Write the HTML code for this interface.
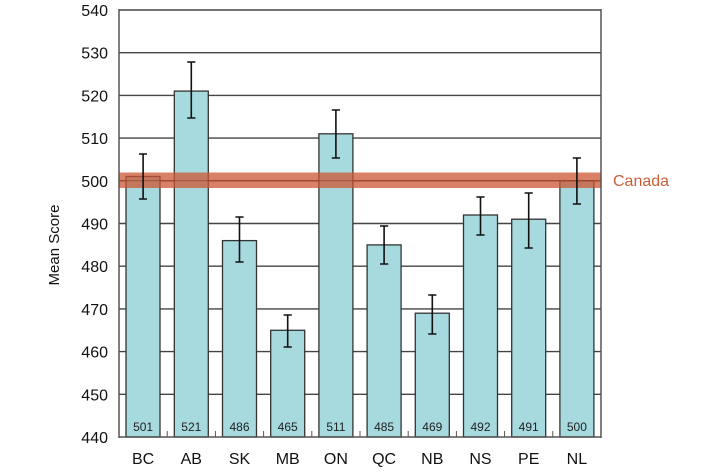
<!DOCTYPE html>
<html><head><meta charset="utf-8"><style>
body{margin:0;background:#fff;}
text{font-family:"Liberation Sans",sans-serif;}
</style></head><body>
<svg width="720" height="471" viewBox="0 0 720 471" xmlns="http://www.w3.org/2000/svg">
<g stroke="#444" stroke-width="1.4">
<line x1="119" y1="10" x2="601" y2="10"/>
<line x1="119" y1="52.7" x2="601" y2="52.7"/>
<line x1="119" y1="95.4" x2="601" y2="95.4"/>
<line x1="119" y1="138.1" x2="601" y2="138.1"/>
<line x1="119" y1="180.8" x2="601" y2="180.8"/>
<line x1="119" y1="223.5" x2="601" y2="223.5"/>
<line x1="119" y1="266.2" x2="601" y2="266.2"/>
<line x1="119" y1="308.9" x2="601" y2="308.9"/>
<line x1="119" y1="351.6" x2="601" y2="351.6"/>
<line x1="119" y1="394.3" x2="601" y2="394.3"/>
</g>
<g fill="#a6dadf" stroke="#333" stroke-width="1.3">
<rect x="126" y="176.5" width="34" height="260.5"/>
<rect x="174.3" y="91.1" width="34" height="345.9"/>
<rect x="222.5" y="240.6" width="34" height="196.4"/>
<rect x="270.7" y="330.3" width="34" height="106.7"/>
<rect x="318.9" y="133.8" width="34" height="303.2"/>
<rect x="367.1" y="244.9" width="34" height="192.1"/>
<rect x="415.3" y="313.2" width="34" height="123.8"/>
<rect x="463.5" y="215" width="34" height="222"/>
<rect x="511.7" y="219.2" width="34" height="217.8"/>
<rect x="559.9" y="180.8" width="34" height="256.2"/>
</g>
<rect x="119" y="172.5" width="482" height="15.5" fill="#cc5533" opacity="0.75"/>
<line x1="119" y1="180.8" x2="601" y2="180.8" stroke="#8a3a20" stroke-width="1" opacity="0.6"/>
<g stroke="#111" stroke-width="1.6">
<path d="M143.1 154V199M139 154H147M139 199H147"/>
<path d="M191.3 62V118M187.2 62H195.4M187.2 118H195.4"/>
<path d="M239.5 217V262M235.4 217H243.6M235.4 262H243.6"/>
<path d="M287.7 315V347M283.6 315H291.8M283.6 347H291.8"/>
<path d="M335.9 110V158M331.8 110H340M331.8 158H340"/>
<path d="M384.1 226V264M380 226H388.2M380 264H388.2"/>
<path d="M432.3 295V334M428.2 295H436.4M428.2 334H436.4"/>
<path d="M480.5 197V235M476.4 197H484.6M476.4 235H484.6"/>
<path d="M528.7 193V248M524.6 193H532.8M524.6 248H532.8"/>
<path d="M576.9 158V204M572.8 158H581M572.8 204H581"/>
</g>
<g stroke="#555" stroke-width="1.5">
<line x1="119" y1="9" x2="119" y2="438"/>
<line x1="601" y1="9" x2="601" y2="438"/>
<line x1="119" y1="437" x2="601" y2="437"/>
</g>
<g stroke="#555" stroke-width="1">
<path d="M167.2 437v-6M215.4 437v-6M263.6 437v-6M311.8 437v-6M360 437v-6M408.2 437v-6M456.4 437v-6M504.6 437v-6M552.8 437v-6"/>
</g>
<g font-size="16" fill="#111" text-anchor="end">
<text x="108" y="16">540</text>
<text x="108" y="58.7">530</text>
<text x="108" y="101.4">520</text>
<text x="108" y="144.1">510</text>
<text x="108" y="186.8">500</text>
<text x="108" y="229.5">490</text>
<text x="108" y="272.2">480</text>
<text x="108" y="314.9">470</text>
<text x="108" y="357.6">460</text>
<text x="108" y="400.3">450</text>
<text x="108" y="443">440</text>
</g>
<g font-size="12" fill="#222" text-anchor="middle">
<text x="143.1" y="431">501</text><text x="191.3" y="431">521</text><text x="239.5" y="431">486</text><text x="287.7" y="431">465</text><text x="335.9" y="431">511</text><text x="384.1" y="431">485</text><text x="432.3" y="431">469</text><text x="480.5" y="431">492</text><text x="528.7" y="431">491</text><text x="576.9" y="431">500</text>
</g>
<g font-size="16" fill="#111" text-anchor="middle">
<text x="143.1" y="464">BC</text><text x="191.3" y="464">AB</text><text x="239.5" y="464">SK</text><text x="287.7" y="464">MB</text><text x="335.9" y="464">ON</text><text x="384.1" y="464">QC</text><text x="432.3" y="464">NB</text><text x="480.5" y="464">NS</text><text x="528.7" y="464">PE</text><text x="576.9" y="464">NL</text>
</g>
<text x="613" y="186" font-size="16" fill="#c8603a">Canada</text>
<text transform="translate(59,245) rotate(-90)" font-size="15" fill="#111" text-anchor="middle">Mean Score</text>
</svg>
</body></html>
